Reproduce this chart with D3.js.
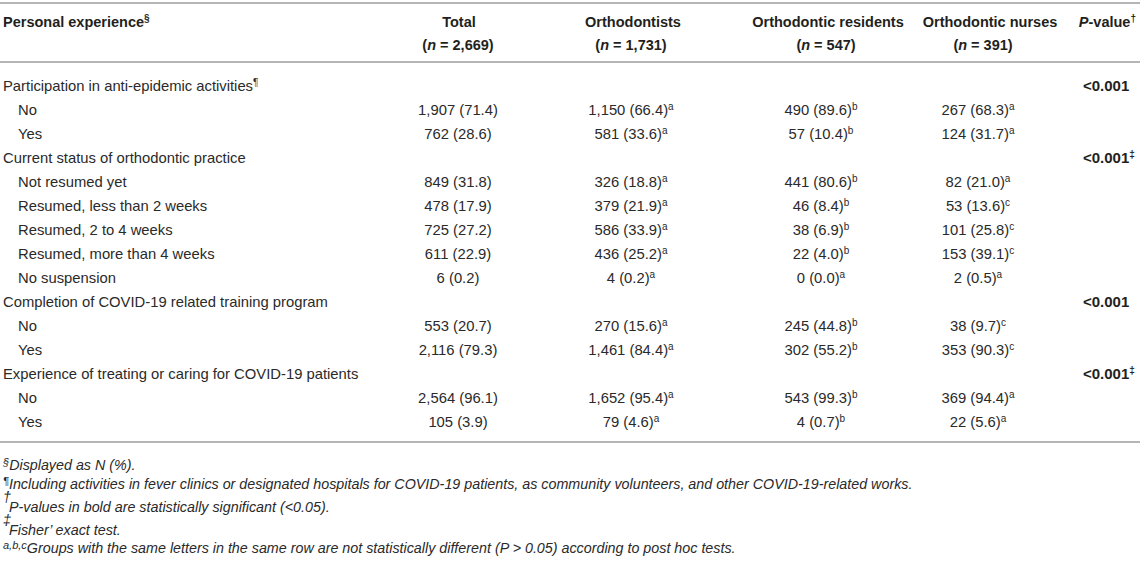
<!DOCTYPE html>
<html>
<head>
<meta charset="utf-8">
<script src="https://cdn.jsdelivr.net/npm/d3@7"></script>
<style>
  body { margin: 0; background: #fff; }
  svg { font-family: "Liberation Sans", Arial, Helvetica, sans-serif; fill: #231f20; }
  .hd { font-weight: bold; font-size: 14.5px; }
  .pv { font-weight: bold; font-size: 15px; }
  .cell { font-size: 14.8px; fill: #2a2a2a; }
  .note { font-size: 14.3px; font-style: italic; fill: #2a2a2a; }
</style>
</head>
<body>
<div id="tablespace"></div>
<script>
// table content
var groups = ["Total", "Orthodontists", "Orthodontic residents", "Orthodontic nurses"];
var groupN = ["2,669", "1,731", "547", "391"];

var rowLabels = [
  "Participation in anti-epidemic activities", "No", "Yes",
  "Current status of orthodontic practice", "Not resumed yet", "Resumed, less than 2 weeks",
  "Resumed, 2 to 4 weeks", "Resumed, more than 4 weeks", "No suspension",
  "Completion of COVID-19 related training program", "No", "Yes",
  "Experience of treating or caring for COVID-19 patients", "No", "Yes"
];
var labelMarks = ["¶", "", "", "", "", "", "", "", "", "", "", "", "", "", ""];
var isSection = [1, 0, 0, 1, 0, 0, 0, 0, 0, 1, 0, 0, 1, 0, 0];

var totalN = [null, 1907, 762, null, 849, 478, 725, 611, 6, null, 553, 2116, null, 2564, 105];
var totalPct = [null, 71.4, 28.6, null, 31.8, 17.9, 27.2, 22.9, 0.2, null, 20.7, 79.3, null, 96.1, 3.9];
var orthoN = [null, 1150, 581, null, 326, 379, 586, 436, 4, null, 270, 1461, null, 1652, 79];
var orthoPct = [null, 66.4, 33.6, null, 18.8, 21.9, 33.9, 25.2, 0.2, null, 15.6, 84.4, null, 95.4, 4.6];
var orthoSig = ["", "a", "a", "", "a", "a", "a", "a", "a", "", "a", "a", "", "a", "a"];
var residentN = [null, 490, 57, null, 441, 46, 38, 22, 0, null, 245, 302, null, 543, 4];
var residentPct = [null, 89.6, 10.4, null, 80.6, 8.4, 6.9, 4.0, 0.0, null, 44.8, 55.2, null, 99.3, 0.7];
var residentSig = ["", "b", "b", "", "b", "b", "b", "b", "a", "", "b", "b", "", "b", "b"];
var nurseN = [null, 267, 124, null, 82, 53, 101, 153, 2, null, 38, 353, null, 369, 22];
var nursePct = [null, 68.3, 31.7, null, 21.0, 13.6, 25.8, 39.1, 0.5, null, 9.7, 90.3, null, 94.4, 5.6];
var nurseSig = ["", "a", "a", "", "a", "c", "c", "c", "a", "", "c", "c", "", "a", "a"];

var pValues = ["<0.001", "", "", "<0.001", "", "", "", "", "", "<0.001", "", "", "<0.001", "", ""];
var pMarks = ["", "", "", "‡", "", "", "", "", "", "", "", "", "‡", "", ""];

var notes = [
  { mark: "§", text: "Displayed as N (%).", raised: false },
  { mark: "¶", text: "Including activities in fever clinics or designated hospitals for COVID-19 patients, as community volunteers, and other COVID-19-related works.", raised: false },
  { mark: "†", text: "P-values in bold are statistically significant (<0.05).", raised: true },
  { mark: "‡", text: "Fisher’ exact test.", raised: true },
  { mark: "a,b,c", text: "Groups with the same letters in the same row are not statistically different (P > 0.05) according to post hoc tests.", raised: false }
];

var columns = [
  { n: totalN, pct: totalPct, sig: null },
  { n: orthoN, pct: orthoPct, sig: orthoSig },
  { n: residentN, pct: residentPct, sig: residentSig },
  { n: nurseN, pct: nursePct, sig: nurseSig }
];

var width = 1143, height = 563;
var fmt = d3.format(",");

var svg = d3.select("#tablespace").append("svg")
    .attr("width", width)
    .attr("height", height);

var y = d3.scaleBand()
    .domain(d3.range(rowLabels.length))
    .range([74, 74 + 24 * rowLabels.length]);

// column centres: header title, (n = ...) line, body cells
var xHead = d3.scaleOrdinal().domain(groups).range([459, 633, 828, 990]);
var xN = d3.scaleOrdinal().domain(groups).range([458, 631, 826, 983]);
var xCell = d3.scaleOrdinal().domain(groups).range([458, 631, 821, 978]);

function rule(yy) {
  svg.append("line")
      .attr("x1", 0).attr("x2", 1140)
      .attr("y1", yy).attr("y2", yy)
      .attr("stroke", "#b5b5b5")
      .attr("stroke-width", 2);
}
rule(3);
rule(62);
rule(y.range()[1] + 8);

function sup(sel, s, size) {
  if (!s) return;
  sel.append("tspan").attr("dy", -5).attr("font-size", size || 10).text(s);
}

// header
var head = svg.append("text").attr("class", "hd").attr("x", 3).attr("y", 27)
    .text("Personal experience");
sup(head, "§", 10);

groups.forEach(function (g, i) {
  svg.append("text").attr("class", "hd")
      .attr("x", xHead(g)).attr("y", 27)
      .attr("text-anchor", "middle")
      .text(g);
  var t = svg.append("text").attr("class", "hd")
      .attr("x", xN(g)).attr("y", 50)
      .attr("text-anchor", "middle");
  t.append("tspan").text("(");
  t.append("tspan").attr("font-style", "italic").text("n");
  t.append("tspan").text(" = " + groupN[i] + ")");
});

var ph = svg.append("text").attr("class", "hd").attr("x", 1136).attr("y", 27)
    .attr("text-anchor", "end");
ph.append("tspan").attr("font-style", "italic").text("P");
ph.append("tspan").text("-value");
ph.append("tspan").attr("dy", -5).attr("font-size", 10).text("†");

// body rows
var rows = svg.selectAll("g.row")
    .data(d3.range(rowLabels.length))
    .enter().append("g")
    .attr("class", "row")
    .attr("transform", function (i) { return "translate(0," + (y(i) + y.bandwidth() / 2 + 5) + ")"; });

rows.each(function (i) {
  var g = d3.select(this);
  var lab = g.append("text").attr("class", "cell")
      .attr("x", isSection[i] ? 3 : 18)
      .text(rowLabels[i]);
  sup(lab, labelMarks[i], 10);

  columns.forEach(function (c, k) {
    if (c.n[i] == null) return;
    var t = g.append("text").attr("class", "cell")
        .attr("x", xCell(groups[k]))
        .attr("text-anchor", "middle")
        .text(fmt(c.n[i]) + " (" + c.pct[i].toFixed(1) + ")");
    if (c.sig) sup(t, c.sig[i], 10);
  });

  if (pValues[i]) {
    var p = g.append("text").attr("class", "pv")
        .attr("x", 1083)
        .text(pValues[i]);
    sup(p, pMarks[i], 10);
  }
});

// footnotes
var noteY = [470, 489, 512, 535, 553];
notes.forEach(function (d, i) {
  var t = svg.append("text").attr("class", "note").attr("x", 3).attr("y", noteY[i]);
  if (d.raised) {
    svg.append("text").attr("class", "note").attr("x", 3).attr("y", noteY[i] - 10)
        .attr("font-size", 11).text(d.mark);
    t.attr("x", 9).text(d.text);
  } else {
    t.append("tspan").attr("font-size", 11).attr("dy", -4).text(d.mark);
    t.append("tspan").attr("dy", 4).text(d.text);
  }
});
</script>
</body>
</html>
